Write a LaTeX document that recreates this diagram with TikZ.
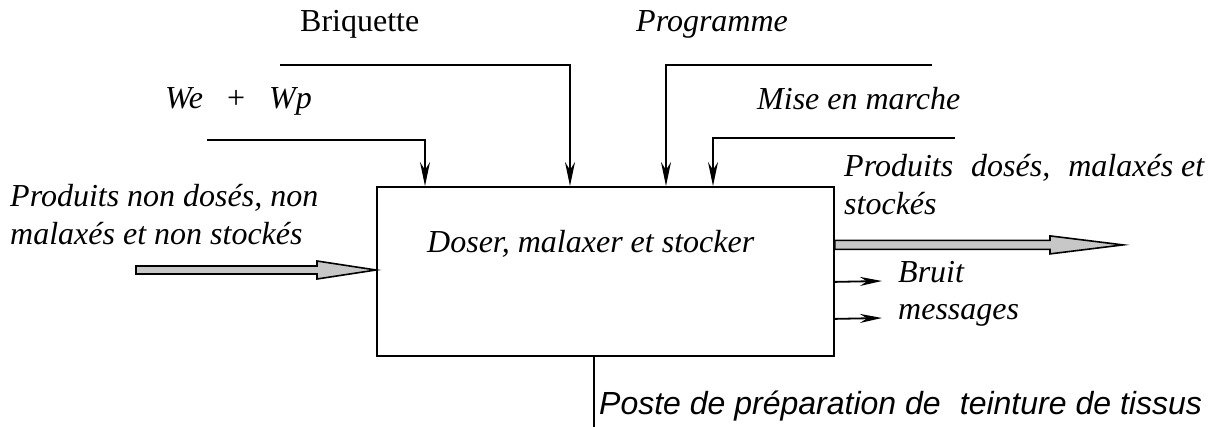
\documentclass[tikz,border=0pt]{standalone}
\usepackage{fontspec}
\setmainfont{Liberation Serif}
\setsansfont{Liberation Sans}
\usetikzlibrary{arrows.meta,calc}
\newcommand\myfat[4]{% start, end, headlen, half shaft
  \draw[fat] let \p1=(#1), \p2=(#2) in
    (\x1,\y1+#4) -- (\x2-#3,\y1+#4) -- (\x2-#3,\y1+9pt) -- (\x2,\y1)
    -- (\x2-#3,\y1-9pt) -- (\x2-#3,\y1-#4) -- (\x1,\y1-#4) -- cycle;}
\begin{document}
\begin{tikzpicture}[x=1pt,y=-1pt,
  thick line/.style={line width=1.8pt},
  arr/.style={thick line, -{Stealth[length=24pt,width=10pt,inset=8pt]}},
  sarr/.style={thick line, -{Stealth[length=22pt,width=9pt,inset=7pt]}},
  lbl/.style={font=\fontsize{32}{38}\selectfont\itshape, inner sep=0pt, anchor=base west, align=left},
  rlbl/.style={font=\fontsize{32}{38}\selectfont, inner sep=0pt, anchor=base west},
  slbl/.style={font=\fontsize{32}{38}\selectfont\sffamily\itshape, inner sep=0pt, anchor=base west},
  fat/.style={draw, line width=1.6pt, fill=black!22, line join=miter}]
\useasboundingbox (0,0) rectangle (1211,427);
\fill[white] (0,0) rectangle (1211,427);

% main box
\node[draw, thick line, minimum width=457pt, minimum height=169pt, inner sep=0pt, anchor=north west] (box) at (376,186) {};
\node[lbl] (doser) at (427,253) {Doser, malaxer et stocker};

% top inputs
\coordinate (we) at (207,140);
\coordinate (br) at (280,65);
\coordinate (pg) at (932,65);
\coordinate (mm) at (955,138);
\draw[arr] (we) -| ([xshift=49pt]box.north west);
\draw[arr] (br) -| ([xshift=194pt]box.north west);
\draw[arr] (pg) -| ([xshift=290pt]box.north west);
\draw[arr] (mm) -| ([xshift=337pt]box.north west);

\node[rlbl] (tbr) at (300,32) {Briquette};
\node[lbl] (tpg) at (636,32) {Programme};
\node[lbl] (twe) at (165,109) {We\hspace{24pt}\upshape+\hspace{24pt}\itshape Wp};
\node[lbl] (tmm) at (757,110) {Mise en marche};

% left input
\coordinate (inS) at (136,270);
\myfat{inS}{box.west}{59pt}{4pt}
\node[lbl] (tin) at (10,245) {Produits non dosés, non\\malaxés et non stockés};

% outputs
\coordinate (outS) at ([yshift=26.5pt]box.east);
\coordinate (outE) at (1123,244);
\myfat{outS}{outE}{73pt}{4.5pt}
\node[lbl] (tout) at (844,215) {Produits\hspace{10pt} dosés,\hspace{10pt} malaxés et\\stockés};

\coordinate (bE) at (882,281);
\coordinate (mE) at (882,318);
\draw[sarr] ([yshift=-10.5pt]box.east) -- (bE);
\draw[sarr] ([yshift=-47.5pt]box.east) -- (mE);
\node[lbl] (tbr2) at (898,283) {Bruit};
\node[lbl] (tms) at (898,320) {messages};

% bottom
\coordinate (pB) at (594,427);
\draw[thick line] ([xshift=218pt]box.south west) -- (pB);
\node[slbl] (tposte) at (599,415) {Poste de préparation de\hspace{0.6em}teinture de tissus};
\end{tikzpicture}
\end{document}
